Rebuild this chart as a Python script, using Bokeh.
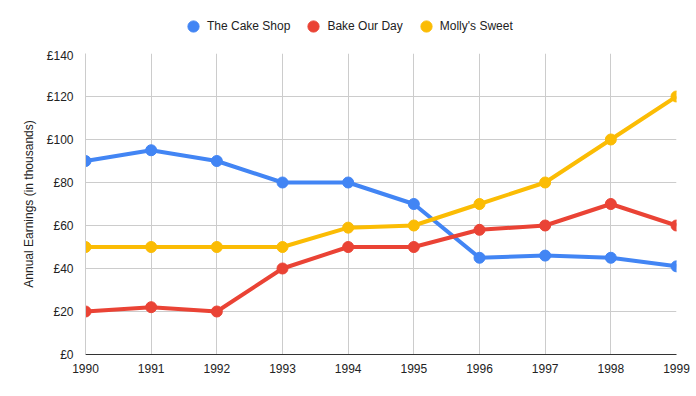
from bokeh.plotting import figure
from bokeh.embed import file_html
from bokeh.resources import INLINE
from bokeh.layouts import column
from bokeh.models import Legend, LegendItem, PrintfTickFormatter, FixedTicker, Range1d

years = [1990, 1991, 1992, 1993, 1994, 1995, 1996, 1997, 1998, 1999]
cake_shop = [90, 95, 90, 80, 80, 70, 45, 46, 45, 41]
bake_our_day = [20, 22, 20, 40, 50, 50, 58, 60, 70, 60]
mollys_sweet = [50, 50, 50, 50, 59, 60, 70, 80, 100, 120]
series_names = ["The Cake Shop", "Bake Our Day", "Molly's Sweet"]
colors = ["#4285F4", "#EA4335", "#FBBC04"]
y_ticks = [0, 20, 40, 60, 80, 100, 120, 140]
all_series = [cake_shop, bake_our_day, mollys_sweet]

# legend strip
lg = figure(width=696, height=48, output_backend="svg", toolbar_location=None,
            x_range=Range1d(0, 1), y_range=Range1d(0, 1),
            x_axis_location=None, y_axis_location=None,
            min_border=0)
lg.outline_line_color = None
lg.xgrid.visible = False
lg.ygrid.visible = False
items = []
for name, vals, c in zip(series_names, all_series, colors):
    r = lg.scatter(years, vals, size=11, fill_color=c, line_color=c, visible=False)
    items.append(LegendItem(label=name, renderers=[r]))
legend = Legend(items=items, orientation="horizontal", location=(94, 8),
                label_text_font="Liberation Sans", label_text_font_size="12px",
                label_text_color="#222222", border_line_color=None,
                background_fill_alpha=0,
                glyph_width=28, glyph_height=28, spacing=9, label_standoff=0,
                padding=0, margin=0)
lg.add_layout(legend, "center")

p = figure(width=696, height=348, output_backend="svg", toolbar_location=None,
           x_range=Range1d(1990, 1999), y_range=Range1d(0, 140),
           min_border_left=85, min_border_right=20, min_border_top=5, min_border_bottom=42)
p.outline_line_color = None

for name, vals, c in zip(series_names, all_series, colors):
    p.line(years, vals, line_color=c, line_width=4)
    p.scatter(years, vals, size=11, fill_color=c, line_color=c)

p.xaxis.ticker = FixedTicker(ticks=years)
p.yaxis.ticker = FixedTicker(ticks=y_ticks)
p.yaxis.formatter = PrintfTickFormatter(format="£%d")
for ax in [p.xaxis[0], p.yaxis[0]]:
    ax.major_tick_line_color = None
    ax.minor_tick_line_color = None
    ax.major_label_text_font = "Liberation Sans"
    ax.major_label_text_font_size = "12px"
    ax.major_label_text_color = "#222222"
p.xaxis.axis_line_color = "#333333"
p.yaxis.axis_line_color = "#cccccc"
p.yaxis.axis_label = "Annual Earnings (in thousands)"
p.yaxis.axis_label_text_font = "Liberation Sans"
p.yaxis.axis_label_text_font_size = "12px"
p.yaxis.axis_label_text_font_style = "normal"
p.yaxis.axis_label_text_color = "#222222"
p.yaxis.axis_label_standoff = 8
p.xgrid.grid_line_color = "#cccccc"
p.ygrid.grid_line_color = "#cccccc"
p.xaxis.major_label_standoff = 3
p.yaxis.major_label_standoff = 6

layout = column(lg, p, spacing=0)
open("out.html", "w").write(file_html(layout, INLINE))
